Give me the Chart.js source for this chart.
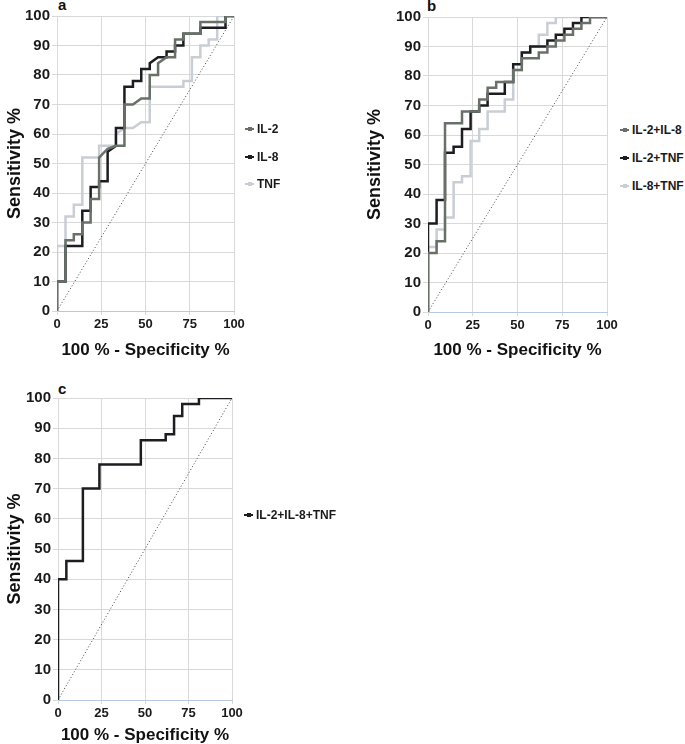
<!DOCTYPE html>
<html>
<head>
<meta charset="utf-8">
<script src="https://cdn.jsdelivr.net/npm/chart.js@4.4.1/dist/chart.umd.min.js"></script>
<style>
  html, body { margin: 0; padding: 0; background: #fff; }
  body { position: relative; width: 685px; height: 744px; overflow: hidden; font-family: "Liberation Sans", Arial, sans-serif; }
  canvas { position: absolute; }
  .letter { position: absolute; font-weight: bold; font-size: 15px; color: #111; line-height: 1; }
  .legend { position: absolute; font-weight: bold; font-size: 12px; color: #1a1a1a; white-space: nowrap; }
  .legend .item { position: absolute; left: 0; height: 14px; line-height: 14px; }
  .legend .mark { position: absolute; left: 0; top: 6px; width: 9px; height: 2px; }
  .legend .mark::after { content: ""; position: absolute; left: 3px; top: -1px; width: 4px; height: 4px; background: inherit; }
  .legend .txt { position: absolute; left: 12px; top: 0; }
</style>
</head>
<body>
<div class="letter" style="left:58px; top:-3px;">a</div>
<div class="letter" style="left:427px; top:-2px;">b</div>
<div class="letter" style="left:58px; top:381px;">c</div>

<canvas id="rocA" width="250" height="365" style="left:0; top:0;"></canvas>
<canvas id="rocB" width="260" height="365" style="left:360px; top:0;"></canvas>
<canvas id="rocC" width="250" height="378" style="left:0; top:370px;"></canvas>

<div class="legend" id="legA" style="left:245px; top:0;"></div>
<div class="legend" id="legB" style="left:620px; top:0;"></div>
<div class="legend" id="legC" style="left:244px; top:0;"></div>

<script>
// panel a: single markers
const fprA_IL2 = [0, 0, 4.8, 4.8, 9.5, 9.5, 14.3, 14.3, 19, 19, 23.8, 23.8, 28.6, 33.3, 38.1, 38.1, 42.9, 47.6, 52.4, 52.4, 57.1, 57.1, 61.9, 66.7, 66.7, 71.4, 71.4, 81, 81, 95.2, 95.2, 100];
const sensA_IL2 = [0, 10, 10, 24, 24, 26, 26, 30, 30, 38, 38, 52, 55, 56, 56, 70, 70, 72, 72, 80, 80, 84, 86, 86, 92, 92, 94, 94, 98, 98, 100, 100];
const fprA_IL8 = [0, 0, 4.8, 4.8, 14.3, 14.3, 19, 19, 23.8, 23.8, 28.6, 28.6, 33.3, 33.3, 38.1, 38.1, 42.9, 42.9, 47.6, 47.6, 52.4, 52.4, 57.1, 61.9, 61.9, 66.7, 66.7, 71.4, 71.4, 81, 81, 95.2, 95.2, 100];
const sensA_IL8 = [0, 10, 10, 22, 22, 34, 34, 42, 42, 44, 44, 54, 56, 62, 62, 76, 76, 78, 78, 82, 82, 84, 86, 86, 88, 88, 90, 90, 94, 94, 96, 96, 100, 100];
const fprA_TNF = [0, 0, 4.8, 4.8, 9.5, 9.5, 14.3, 14.3, 23.8, 23.8, 33.3, 33.3, 38.1, 42.9, 47.6, 52.4, 52.4, 71.4, 71.4, 76.2, 76.2, 81, 81, 85.7, 85.7, 90.5, 90.5, 100];
const sensA_TNF = [0, 22, 22, 32, 32, 36, 36, 52, 52, 56, 56, 60, 62, 62, 64, 64, 76, 76, 78, 78, 86, 86, 90, 90, 92, 92, 100, 100];

// panel b: pairs
const fprB_IL2IL8 = [0, 0, 4.8, 4.8, 9.5, 9.5, 19, 19, 28.6, 28.6, 33.3, 33.3, 38.1, 38.1, 47.6, 47.6, 52.4, 52.4, 61.9, 61.9, 66.7, 66.7, 71.4, 71.4, 76.2, 76.2, 81, 81, 85.7, 85.7, 90.5, 90.5, 100];
const sensB_IL2IL8 = [0, 20, 20, 24, 24, 64, 64, 68, 68, 72, 72, 76, 76, 78, 78, 82, 82, 86, 86, 88, 88, 90, 90, 92, 92, 94, 94, 96, 96, 98, 98, 100, 100];
const fprB_IL2TNF = [0, 0, 4.8, 4.8, 9.5, 9.5, 14.3, 14.3, 19, 19, 23.8, 23.8, 28.6, 28.6, 33.3, 33.3, 42.9, 42.9, 47.6, 47.6, 52.4, 52.4, 57.1, 57.1, 66.7, 66.7, 71.4, 71.4, 76.2, 76.2, 81, 81, 85.7, 85.7, 100];
const sensB_IL2TNF = [0, 30, 30, 38, 38, 54, 54, 56, 56, 62, 62, 68, 68, 70, 70, 74, 74, 78, 78, 84, 84, 88, 88, 90, 90, 92, 92, 94, 94, 96, 96, 98, 98, 100, 100];
const fprB_IL8TNF = [0, 0, 4.8, 4.8, 9.5, 9.5, 14.3, 14.3, 19, 19, 23.8, 23.8, 28.6, 28.6, 33.3, 33.3, 42.9, 42.9, 47.6, 47.6, 52.4, 52.4, 57.1, 57.1, 61.9, 61.9, 66.7, 66.7, 71.4, 71.4, 100];
const sensB_IL8TNF = [0, 22, 22, 28, 28, 32, 32, 44, 44, 46, 46, 58, 58, 62, 62, 68, 68, 72, 72, 82, 82, 88, 88, 90, 90, 94, 94, 98, 98, 100, 100];

// panel c: all three
const fprC_all = [0, 0, 4.8, 4.8, 14.3, 14.3, 23.8, 23.8, 47.6, 47.6, 61.9, 61.9, 66.7, 66.7, 71.4, 71.4, 81, 81, 100];
const sensC_all = [0, 40, 40, 46, 46, 70, 70, 78, 78, 86, 86, 88, 88, 94, 94, 98, 98, 100, 100];

const xTicks = [0, 25, 50, 75, 100];
const yTicks = [0, 10, 20, 30, 40, 50, 60, 70, 80, 90, 100];
const refLine = [0, 100];

const GRAY = '#687068';
const BLACK = '#1d1d21';
const LIGHT = '#c9ced5';

const tickFontY = { family: 'Liberation Sans', size: 15, weight: 'bold' };
const tickFontX = { family: 'Liberation Sans', size: 13, weight: 'bold' };
const titleFontX = { family: 'Liberation Sans', size: 17, weight: 'bold' };
const titleFontY = { family: 'Liberation Sans', size: 18, weight: 'bold' };
const TITLE_LH = 17 * 1.2;
const TITLE_LH_Y = 18 * 1.2;

function pts(xs, ys) {
    return xs.map((x, i) => ({ x: x, y: ys[i] }));
}

// box: canvas position, area: wanted plot rectangle (page px), yTitleX / xTitleY: title centres
function rocChart(id, series, box, area, yTitleX, xTitleY) {
    const xScaleH = xTitleY + TITLE_LH / 2 - area.b;
    const datasets = series.map(s => ({
        label: s.label,
        data: pts(s.x, s.y),
        borderColor: s.color,
        borderWidth: 2.5,
        borderJoinStyle: 'miter',
        pointRadius: 0,
        tension: 0,
        fill: false
    }));
    datasets.push({
        label: 'ref',
        data: pts(refLine, refLine),
        borderColor: '#444',
        borderWidth: 1,
        borderDash: [1, 2.2],
        pointRadius: 0,
        fill: false
    });

    const ctx = document.getElementById(id).getContext('2d');
    return new Chart(ctx, {
        type: 'line',
        data: { datasets: datasets },
        options: {
            responsive: false,
            animation: false,
            devicePixelRatio: 1,
            layout: {
                padding: {
                    left: 0,
                    top: area.t - box.top,
                    right: box.left + box.w - area.r,
                    bottom: box.top + box.h - area.b - xScaleH
                }
            },
            plugins: {
                legend: { display: false },
                tooltip: { enabled: false }
            },
            scales: {
                x: {
                    type: 'linear',
                    min: 0,
                    max: 100,
                    afterBuildTicks: s => { s.ticks = xTicks.map(v => ({ value: v })); },
                    afterFit: s => { s.height = xScaleH; },
                    ticks: { font: tickFontX, color: '#1a1a1a', padding: 2 },
                    grid: { color: '#d9d9d9', tickLength: 4 },
                    border: { color: '#b7c9e2', width: 1 },
                    title: {
                        display: true,
                        text: '100 % - Specificity %',
                        font: titleFontX,
                        color: '#111',
                        padding: 0
                    }
                },
                y: {
                    min: 0,
                    max: 100,
                    afterBuildTicks: s => { s.ticks = yTicks.map(v => ({ value: v })); },
                    afterFit: s => { s.width = area.l - box.left; },
                    ticks: { font: tickFontY, color: '#1a1a1a', padding: 2 },
                    grid: { color: '#d9d9d9', tickLength: 5 },
                    border: { color: '#d9d9d9' },
                    title: {
                        display: true,
                        text: 'Sensitivity %',
                        font: titleFontY,
                        color: '#111',
                        padding: { top: yTitleX - box.left - TITLE_LH_Y / 2, bottom: 0 }
                    }
                }
            }
        }
    });
}

function legend(id, items, tops) {
    const el = document.getElementById(id);
    items.forEach((it, i) => {
        const row = document.createElement('div');
        row.className = 'item';
        row.style.top = (tops[i] - 7) + 'px';
        row.innerHTML = '<span class="mark" style="background:' + it.color + '"></span><span class="txt">' + it.label + '</span>';
        el.appendChild(row);
    });
}

const seriesA = [
    { label: 'IL-2', x: fprA_IL2, y: sensA_IL2, color: GRAY },
    { label: 'IL-8', x: fprA_IL8, y: sensA_IL8, color: BLACK },
    { label: 'TNF', x: fprA_TNF, y: sensA_TNF, color: LIGHT }
];
const seriesB = [
    { label: 'IL-2+IL-8', x: fprB_IL2IL8, y: sensB_IL2IL8, color: GRAY },
    { label: 'IL-2+TNF', x: fprB_IL2TNF, y: sensB_IL2TNF, color: BLACK },
    { label: 'IL-8+TNF', x: fprB_IL8TNF, y: sensB_IL8TNF, color: LIGHT }
];
const seriesC = [
    { label: 'IL-2+IL-8+TNF', x: fprC_all, y: sensC_all, color: BLACK }
];

rocChart('rocA', seriesA, { left: 0, top: 0, w: 250, h: 365 }, { l: 57, r: 234, t: 16, b: 311 }, 15, 350);
rocChart('rocB', seriesB, { left: 360, top: 0, w: 260, h: 365 }, { l: 428, r: 607, t: 17, b: 312 }, 375, 350);
rocChart('rocC', seriesC, { left: 0, top: 370, w: 250, h: 378 }, { l: 58, r: 232, t: 398, b: 700 }, 15, 735);

legend('legA', seriesA, [129, 157, 184]);
legend('legB', seriesB, [130, 158, 186]);
legend('legC', seriesC, [515]);
</script>
</body>
</html>
